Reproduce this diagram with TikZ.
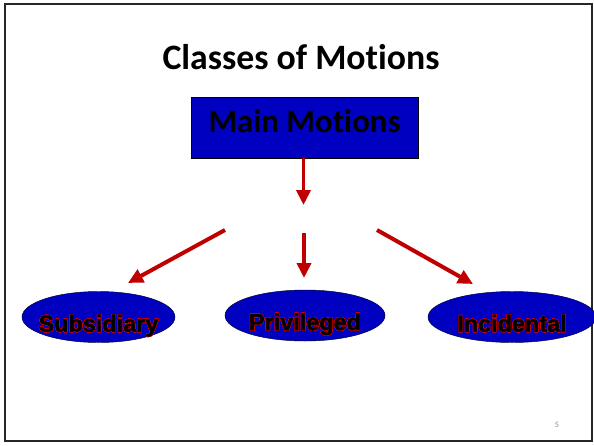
\documentclass[tikz,border=0pt]{standalone}
\usepackage{fontspec}
\setmainfont{Carlito}[RawFeature={-liga;-clig;-calt;-dlig}]
\newfontfamily\armfont{Liberation Sans}[BoldFeatures={FakeBold=1.6}]
\usepackage[copies]{contour}
\contourlength{0.35pt}
\usetikzlibrary{shapes.geometric,arrows.meta}
\definecolor{slideblue}{RGB}{0,0,192}
\definecolor{slidered}{RGB}{192,0,0}
\newcommand{\rimtext}[1]{\makebox[0pt]{\contour{red!85!black}{\textcolor{black}{#1}}}}
\tikzset{
  motion/.style={ellipse,draw=black!80!blue,fill=slideblue,inner sep=0pt,
    minimum width=#1,minimum height=1.53cm,text height=0.9cm,text depth=0.02cm,
    font=\armfont\bfseries\fontsize{20}{24}\selectfont},
  flow/.style={slidered,line width=3.4pt,-{Triangle[length=0.45cm,width=0.42cm]}}
}
\begin{document}
\begin{tikzpicture}[x=0.03cm,y=-0.03cm]
\useasboundingbox (0,0) rectangle (594,445);
\draw[black!85,line width=1.5pt] (5,4) rectangle (592,441);
% title and main box
\node[anchor=base,font=\bfseries\fontsize{30.5}{36}\selectfont] (title) at (301,69) {Classes of Motions};
\node[draw=black,fill=slideblue,inner sep=0pt,minimum width=6.81cm,minimum height=1.83cm,
  text height=1.05cm,text depth=0.78cm,font=\bfseries\fontsize{28}{34}\selectfont] (main) at (304.5,127.5) {Main Motions};
% three classes
\node[motion=4.59cm] (subsidiary) at (98.5,317) {\rimtext{Subsidiary}};
\node[motion=4.8cm] (privileged) at (305,315.5) {\rimtext{Privileged}};
\node[motion=5.04cm] (incidental) at (512,317) {\rimtext{Incidental}};
% arrows
\coordinate (drop) at (303.5,205);
\coordinate (leftstart) at (225,230);
\coordinate (leftend) at (128,283);
\coordinate (midstart) at (304,233);
\coordinate (midend) at (304,278);
\coordinate (rightstart) at (377,230);
\coordinate (rightend) at (473,284);
\draw[flow] (main.south -| drop) -- (drop);
\draw[flow] (leftstart) -- (leftend);
\draw[flow] (midstart) -- (midend);
\draw[flow] (rightstart) -- (rightend);
\node[text=black!45,font=\fontsize{7}{8}\selectfont] (page) at (557,425) {5};
\end{tikzpicture}
\end{document}
